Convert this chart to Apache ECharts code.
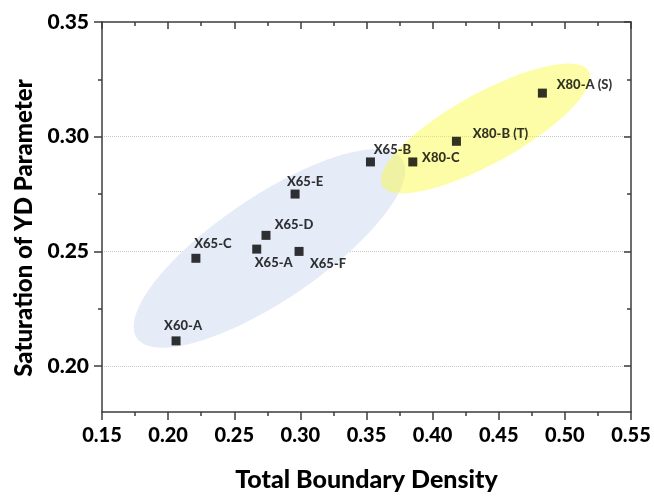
<!DOCTYPE html>
<html>
<head>
<meta charset="utf-8">
<script src="https://cdn.jsdelivr.net/npm/echarts@6/dist/echarts.min.js"></script>
<style>
html, body { margin: 0; padding: 0; background: #fff; }
#chart { width: 654px; height: 496px; }
</style>
</head>
<body>
<div id="chart"></div>
<script>
// steel grades
const names = ['X60-A', 'X65-C', 'X65-A', 'X65-D', 'X65-E', 'X65-F', 'X65-B', 'X80-C', 'X80-B (T)', 'X80-A (S)'];
const density = [0.206, 0.221, 0.267, 0.274, 0.296, 0.299, 0.353, 0.385, 0.418, 0.483];
const saturation = [0.211, 0.247, 0.251, 0.257, 0.275, 0.250, 0.289, 0.289, 0.298, 0.319];

const yTickValues = [0.20, 0.25, 0.30, 0.35];
const yMinorValues = [0.225, 0.275, 0.325];
const yGridValues = [0.20, 0.25, 0.30];

// label placement (px, relative to marker)
const labelOffsets = [[7, -15], [17, -14], [17, 14], [28, -11], [10, -12], [29, 12], [22, -12], [28, -4], [44, -7], [42, -8]];

// group highlight ellipses: centre in data units, radii in px, angle in degrees
const groups = [
	{ center: [0.2766, 0.2513], rx: 160, ry: 52, angle: 34, color: 'rgb(229,235,247)' },
	{ center: [0.440, 0.3036], rx: 118, ry: 35, angle: 29, color: 'rgba(250,250,60,0.45)' }
];

const FONT = 'Lato';
const AXIS_COLOR = '#3c3c3c';

var myChart = echarts.init(document.getElementById('chart'));

function ellipseSeries(g) {
	return {
		type: 'custom',
		silent: true,
		z: 1,
		data: [g.center],
		renderItem: function (params, api) {
			const c = api.coord([api.value(0), api.value(1)]);
			const t = g.angle * Math.PI / 180;
			const pts = [];
			for (let i = 0; i < 90; i++) {
				const a = i / 90 * Math.PI * 2;
				const ex = g.rx * Math.cos(a), ey = g.ry * Math.sin(a);
				pts.push([c[0] + ex * Math.cos(t) - ey * Math.sin(t), c[1] - (ex * Math.sin(t) + ey * Math.cos(t))]);
			}
			return { type: 'polygon', shape: { points: pts }, style: { fill: g.color } };
		}
	};
}

const xBase = {
	type: 'value', min: 0.15, max: 0.55, interval: 0.05,
	axisLine: { show: true, onZero: false, lineStyle: { color: AXIS_COLOR, width: 1.5 } },
	splitLine: { show: false }
};
const yBase = {
	type: 'value', min: 0.18, max: 0.35,
	axisLine: { show: true, onZero: false, lineStyle: { color: AXIS_COLOR, width: 1.5 } },
	splitLine: { show: false }
};

let option = {
	animation: false,
	grid: { left: 102, right: 23, top: 22, bottom: 84, outerBoundsMode: 'none' },
	xAxis: [
		Object.assign({}, xBase, {
			position: 'bottom',
			name: 'Total Boundary Density',
			nameLocation: 'middle',
			nameGap: 55,
			nameMoveOverlap: false,
			nameTextStyle: { fontFamily: FONT, fontWeight: 900, fontSize: 25, color: '#000' },
			axisTick: { show: true, length: 8, lineStyle: { color: AXIS_COLOR, width: 1.5 } },
			minorTick: { show: true, splitNumber: 2, length: 4, lineStyle: { color: AXIS_COLOR, width: 1.5 } },
			axisLabel: {
				margin: 14, fontFamily: FONT, fontWeight: 900, fontSize: 20, color: '#000',
				formatter: v => v.toFixed(2)
			}
		}),
		Object.assign({}, xBase, {
			position: 'top',
			axisTick: { show: true, inside: true, length: 7, lineStyle: { color: AXIS_COLOR, width: 1.5 } },
			minorTick: { show: true, splitNumber: 2, length: 4, lineStyle: { color: AXIS_COLOR, width: 1.5 } },
			axisLabel: { show: false }
		})
	],
	yAxis: [
		Object.assign({}, yBase, {
			position: 'left',
			name: 'Saturation of YD Parameter',
			nameLocation: 'middle',
			nameGap: 66,
			nameMoveOverlap: false,
			nameTextStyle: { fontFamily: FONT, fontWeight: 900, fontSize: 24, color: '#000', padding: [0, 22, 0, 0] },
			axisTick: { show: true, length: 8, customValues: yTickValues, lineStyle: { color: AXIS_COLOR, width: 1.5 } },
			axisLabel: {
				margin: 13, fontFamily: FONT, fontWeight: 900, fontSize: 21, color: '#000',
				customValues: yTickValues,
				formatter: v => v.toFixed(2)
			}
		}),
		Object.assign({}, yBase, {
			position: 'left',
			axisLine: { show: false },
			axisTick: { show: true, length: 4, customValues: yMinorValues, lineStyle: { color: AXIS_COLOR, width: 1.5 } },
			axisLabel: { show: false }
		}),
		Object.assign({}, yBase, {
			position: 'right',
			axisTick: { show: true, inside: true, length: 7, customValues: yTickValues, lineStyle: { color: AXIS_COLOR, width: 1.5 } },
			axisLabel: { show: false }
		}),
		Object.assign({}, yBase, {
			position: 'right',
			axisLine: { show: false },
			axisTick: { show: true, inside: true, length: 4, customValues: yMinorValues, lineStyle: { color: AXIS_COLOR, width: 1.5 } },
			axisLabel: { show: false }
		})
	],
	series: [
		{
			// dotted grid, drawn under the ellipses
			type: 'scatter',
			z: 0,
			silent: true,
			data: [],
			markLine: {
				z: 0,
				silent: true,
				symbol: 'none',
				label: { show: false },
				lineStyle: { type: 'dotted', color: '#c8c8c8', width: 1 },
				data: yGridValues.map(v => ({ yAxis: v }))
			}
		},
		ellipseSeries(groups[0]),
		ellipseSeries(groups[1]),
		{
			type: 'scatter',
			z: 3,
			symbol: 'rect',
			symbolSize: 9,
			itemStyle: { color: '#000' },
			label: {
				show: true,
				position: 'inside',
				align: 'center',
				verticalAlign: 'middle',
				fontFamily: FONT,
				fontWeight: 900,
				fontSize: 13,
				color: '#000',
				formatter: p => p.name
			},
			data: names.map((n, i) => ({
				name: n,
				value: [density[i], saturation[i]],
				label: { offset: labelOffsets[i] }
			}))
		}
	]
};

myChart.setOption(option);
</script>
</body>
</html>
